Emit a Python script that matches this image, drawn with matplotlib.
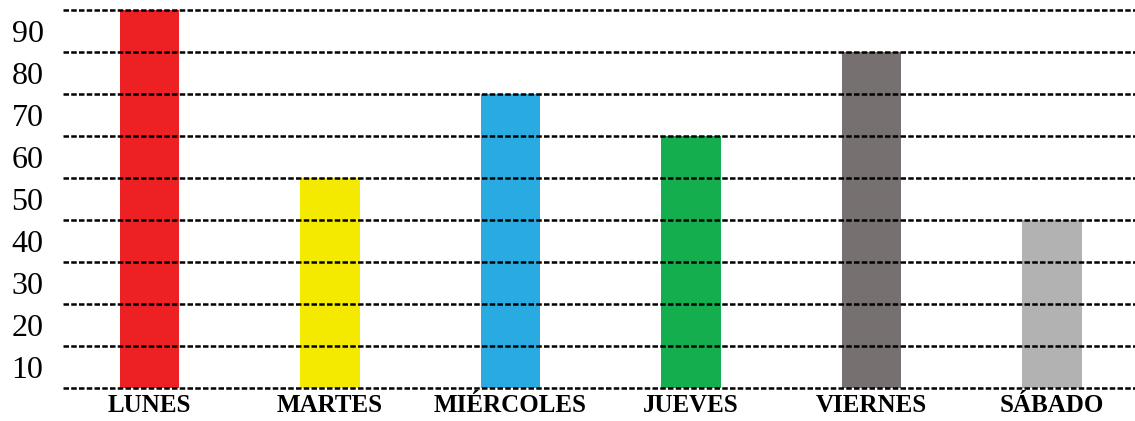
import matplotlib
matplotlib.use("Agg")
import matplotlib.pyplot as plt

days = ["LUNES", "MARTES", "MIÉRCOLES", "JUEVES", "VIERNES", "SÁBADO"]
values = [90, 50, 70, 60, 80, 40]
colors = ["#ED2024", "#F4EA00", "#29ABE2", "#15AE4E", "#767170", "#B2B2B2"]
grid_levels = [0, 10, 20, 30, 40, 50, 60, 70, 80, 90]
tick_labels = ["10", "20", "30", "40", "50", "60", "70", "80", "90"]


def main():
    plt.rcParams["font.family"] = ["Liberation Serif", "DejaVu Serif"]
    fig = plt.figure(figsize=(11.35, 4.21), dpi=100)
    ax = fig.add_axes([63 / 1135, 33 / 421, 1 - 63 / 1135, 378 / 421])

    x = list(range(len(days)))
    ax.bar(x, values, width=0.33, color=colors, zorder=1)

    for lvl in grid_levels:
        ax.axhline(lvl, color="black", linestyle=(0, (2.2, 0.9)), linewidth=1.8,
                   zorder=2, clip_on=False)

    ax.set_xlim(-0.48, 5.46)
    ax.set_ylim(0, 90)

    # labels sit in the middle of the band under their line
    ax.set_yticks([int(t) - 5 for t in tick_labels])
    ax.set_yticklabels(tick_labels, fontsize=23)
    ax.set_xticks(x)
    ax.set_xticklabels(days, fontsize=18, fontweight="bold")
    ax.tick_params(axis="both", length=0)
    ax.tick_params(axis="y", pad=14)
    ax.tick_params(axis="x", pad=4)
    for s in ax.spines.values():
        s.set_visible(False)

    fig.savefig("out.png", dpi=100)


if __name__ == '__main__':
    main()
